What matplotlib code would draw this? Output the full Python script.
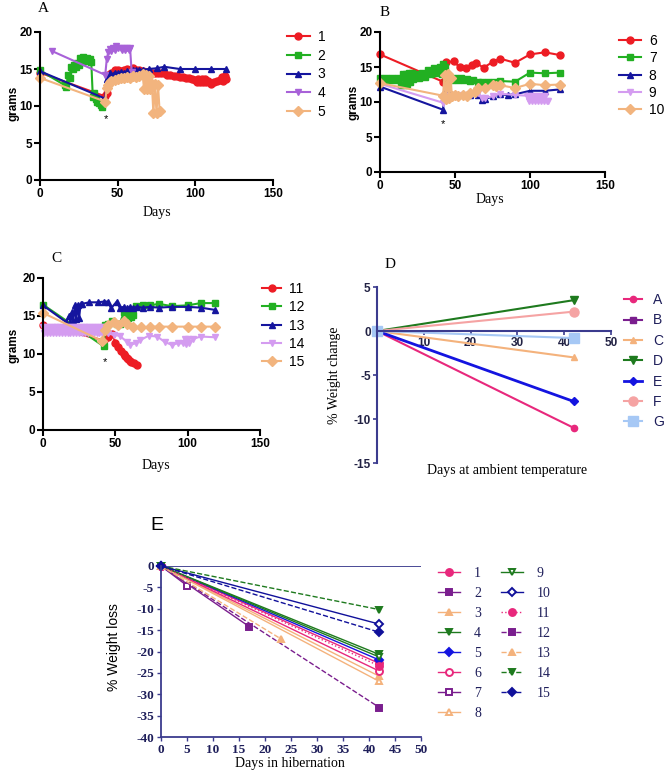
import matplotlib
matplotlib.use('Agg')
import matplotlib.pyplot as plt

plt.rcParams['axes.unicode_minus'] = False

W, H = 668, 783
SANS = ['Liberation Sans', 'DejaVu Sans']
SERIF = ['Liberation Serif', 'DejaVu Serif']

# ---------------- Panel A data (day, grams) ----------------
A1 = [(0,14.5),(42,11.3),(43,11.8),(44,14.2),(46,14.5),(48,14.8),(50,14.9),(52,14.7),(54,14.9),(56,15.0),
      (58,14.8),(60,15.2),(62,14.9),(64,14.8),(66,14.7),(68,14.6),(70,14.6),(72,14.5),(74,14.5),(76,14.4),
      (78,14.5),(80,14.4),(82,14.2),(84,14.2),(86,14.1),(88,14.0),(90,13.9),(92,13.9),(94,13.8),(96,13.8),
      (98,13.6),(100,13.5),(101,13.3),(102,13.6),(103,13.3),(104,13.6),(105,13.3),(106,13.6),(107,13.3),
      (108,13.4),(110,13.0),(112,13.2),(114,13.4),(116,13.5),(117,13.9),(118,13.4),(119,14.0),(120,13.6)]
A2 = [(0,14.8),(16,12.8),(17,12.6),(18,14.2),(19,13.8),(20,15.3),(21,15.0),(22,15.6),(23,15.3),(24,15.8),
      (25,15.5),(26,16.5),(27,16.0),(28,16.6),(29,16.2),(30,16.5),(31,16.1),(32,16.4),(33,16.0),(34,11.2),
      (35,11.8),(36,10.9),(37,10.6),(38,10.4),(39,10.1),(40,9.9)]
A3 = [(0,14.7),(42,11.0),(43,13.6),(44,14.2),(45,14.4),(46,14.2),(48,14.5),(50,14.4),(52,14.6),(54,14.5),
      (56,14.7),(58,14.6),(60,14.8),(62,14.8),(64,14.9),(66,14.9),(70,15.0),(75,15.1),(80,15.3),(90,15.0),
      (100,15.0),(110,15.0),(120,15.0)]
A4 = [(8,17.4),(42,14.2),(43,16.4),(44,17.3),(45,17.7),(46,17.4),(47,17.9),(48,17.6),(49,18.1),(50,17.8),
      (52,17.9),(53,17.6),(54,17.8),(55,17.6),(56,17.9),(57,17.6),(58,17.8),(59,14.6)]
A5 = [(0,13.8),(42,10.6),(43,12.5),(44,12.9),(45,13.2),(46,13.4),(48,13.5),(50,13.7),(52,13.8),(54,13.8),
      (56,13.9),(58,13.8),(60,14.0),(62,13.9),(64,14.1),(66,14.3),(67,12.3),(68,14.2),(69,12.3),(70,14.0),
      (71,12.3),(72,13.0),(73,9.0),(74,13.0),(75,9.0),(76,12.8),(77,9.3)]

# ---------------- Panel B data ----------------
B6 = [(0,16.8),(42,12.9),(44,15.7),(49,15.8),(53,15.0),(57,14.8),(61,15.3),(64,15.6),(69,14.9),(75,15.7),
      (80,16.2),(90,15.6),(100,16.8),(110,17.1),(120,16.7)]
B7 = [(0,13.5),(2,13.2),(4,13.4),(6,13.1),(8,13.4),(10,13.2),(12,13.5),(14,12.5),(15,14.0),(16,12.5),
      (17,14.0),(18,12.6),(19,14.2),(20,12.8),(21,14.2),(22,13.3),(24,14.0),(26,13.4),(28,14.2),(30,13.6),
      (32,14.6),(34,14.0),(36,14.8),(38,14.2),(40,15.0),(41,14.0),(42,15.5),(43,15.0),(44,13.3),(46,13.6),
      (48,13.2),(50,13.5),(52,13.1),(54,13.4),(56,13.2),(58,13.3),(60,13.0),(62,13.1),(65,12.9),(68,12.8),
      (72,12.8),(76,12.8),(80,13.0),(90,12.9),(100,14.2),(110,14.1),(120,14.2)]
B8 = [(0,12.2),(42,8.9),(43,11.5),(44,10.8),(46,11.2),(50,11.0),(55,11.1),(60,11.0),(65,11.0),(68,10.3),
      (70,10.4),(75,10.8),(80,11.1),(85,11.0),(90,11.1),(100,11.6),(110,11.6),(120,11.8)]
B9 = [(0,12.6),(42,9.9),(43,10.5),(45,10.8),(50,11.0),(55,11.0),(60,11.0),(65,11.3),(68,10.6),(70,10.6),
      (75,10.8),(80,11.2),(90,11.0),(98,10.9),(99,10.1),(100,10.9),(101,10.1),(102,10.9),(103,10.1),
      (104,10.9),(105,10.1),(106,10.9),(107,10.1),(108,10.9),(109,10.1),(110,10.8),(111,10.1),(112,10.2)]
B10 = [(0,12.7),(42,10.9),(43,13.8),(44,10.5),(45,14.0),(46,10.6),(47,13.5),(48,10.8),(50,11.0),(52,10.8),
       (55,11.0),(58,10.9),(60,11.3),(63,11.5),(65,12.0),(70,12.0),(75,12.5),(77,12.3),(80,12.4),(90,12.0),
       (100,12.6),(110,12.4),(120,12.5)]

# ---------------- Panel C data ----------------
C11 = [(0,13.8),(42,11.8),(45,12.3),(48,12.6),(50,11.5),(52,10.9),(54,10.4),(56,10.0),(57,9.8),(58,9.5),
       (59,9.3),(60,9.1),(61,9.0),(63,8.8),(65,8.6)]
C12 = [(0,16.5),(42,11.0),(43,13.8),(45,14.0),(48,14.4),(51,13.9),(53,14.0),(56,15.5),(57,14.8),(58,15.6),
       (59,14.8),(60,15.6),(61,14.9),(62,15.1),(64,16.3),(69,16.4),(74,16.4),(80,16.6),(89,16.3),(100,16.4),
       (109,16.7),(119,16.7)]
C13 = [(0,16.4),(16,14.2),(18,15.0),(19,14.0),(20,15.5),(21,14.4),(22,16.4),(23,14.6),(24,16.5),(25,14.8),
       (26,16.6),(27,16.6),(32,16.8),(38,16.8),(42,16.9),(45,16.9),(47,16.0),(51,16.9),(53,16.1),(56,16.2),
       (58,16.0),(60,16.2),(62,16.1),(65,16.2),(69,16.1),(74,16.2),(80,16.1),(89,16.2),(100,16.2),(109,16.1),
       (119,15.8)]
C14 = [(0,13.6),(1,12.7),(2,13.6),(3,12.7),(4,13.6),(5,12.7),(6,13.6),(7,12.7),(8,13.6),(9,12.7),(10,13.6),
       (11,12.7),(12,13.6),(13,12.7),(14,13.6),(15,12.7),(16,13.6),(17,12.7),(18,13.6),(19,12.7),(20,13.6),
       (21,12.7),(22,13.6),(23,12.7),(24,13.6),(25,12.7),(26,13.6),(27,12.7),(28,13.6),(29,12.7),(30,13.6),
       (31,12.7),(32,13.6),(33,12.7),(34,13.6),(35,12.7),(36,13.6),(37,12.7),(38,13.6),(39,12.7),(40,13.6),
       (41,12.7),(42,13.6),(45,12.7),(49,12.5),(53,12.4),(58,11.6),(60,11.2),(64,11.4),(67,11.8),(73,12.4),
       (79,12.3),(84,11.6),(89,11.2),(93,11.4),(97,11.4),(98,12.0),(99,11.3),(100,12.0),(101,11.4),(104,12.0),
       (109,12.3),(119,12.2)]
C15 = [(0,15.4),(41,11.7),(43,13.1),(45,13.8),(49,14.2),(52,13.8),(56,14.4),(58,14.0),(62,13.6),(68,13.5),
       (74,13.6),(80,13.6),(89,13.6),(100,13.6),(109,13.6),(119,13.6)]

# ---------------- Panel D data (% weight change) ----------------
D_days = [0, 42]
D_A = [0, -11.0]
D_B = [0]
D_C = [0, -3.0]
D_D = [0, 3.5]
D_E = [0, -8.0]
D_F = [0, 2.2]
D_G = [0, -0.8]

# ---------------- Panel E data (% weight loss) ----------------
E_days = {1: [0, 42], 2: [0, 17], 3: [0, 42], 4: [0, 42], 5: [0, 42], 6: [0, 42], 7: [0, 5], 8: [0, 42],
          9: [0, 42], 10: [0, 42], 11: [0, 42], 12: [0, 42], 13: [0, 23], 14: [0, 42], 15: [0, 42]}
E_loss = {1: [0, -22.8], 2: [0, -14.2], 3: [0, -25.8], 4: [0, -20.7], 5: [0, -22.0], 6: [0, -24.6],
          7: [0, -4.6], 8: [0, -27.0], 9: [0, -21.3], 10: [0, -13.6], 11: [0, -23.4], 12: [0, -33.1],
          13: [0, -17.0], 14: [0, -10.2], 15: [0, -15.5]}

# ---------------- colours ----------------
RED, GREEN, BLUE, ORANGE = '#ED1C24', '#22B022', '#15159E', '#F2B47E'
PURPLE_A, VIOLET = '#A862D8', '#D49CF0'
NAVY = '#3B3B8E'
TXT_NAVY = '#1E1E5A'
PINK, PURP, SAND, DGREEN, DBLUE, NAVYB = '#E8287C', '#7A1E8E', '#F4B27C', '#1E7A1E', '#1414E0', '#10109A'

fig = plt.figure(figsize=(W / 100, H / 100), dpi=100)


def add_ax(l, t, r, b):
    return fig.add_axes([l / W, 1 - b / H, (r - l) / W, (b - t) / H])


def style_abc(ax):
    ax.set_xlim(0, 150)
    ax.set_ylim(0, 20)
    ax.set_xticks([0, 50, 100, 150])
    ax.set_yticks([0, 5, 10, 15, 20])
    for s in ['top', 'right']:
        ax.spines[s].set_visible(False)
    for s in ['left', 'bottom']:
        ax.spines[s].set_linewidth(1.5)
    ax.tick_params(direction='out', length=4, width=1.5, labelsize=8.5, pad=1.5)
    for lbl in ax.get_xticklabels() + ax.get_yticklabels():
        lbl.set_fontweight('bold')
        lbl.set_fontfamily(SANS)


def plot_series(ax, data, color, marker, label):
    xs = [d for d, v in data]
    ys = [v for d, v in data]
    ax.plot(xs, ys, color=color, marker=marker, ms=5, lw=1.5, label=label, clip_on=False)


def abc_legend(ax, x, y, hl, ls):
    ax.legend(loc='upper left', bbox_to_anchor=(x / W, 1 - y / H), bbox_transform=fig.transFigure,
              frameon=False, prop={'family': SANS, 'size': 10}, handlelength=hl, handletextpad=0.55,
              labelspacing=ls, borderpad=0, borderaxespad=0)


def abc_labels(ax, xl, yl):
    ax.set_xlabel('Days', family=SERIF, fontsize=10)
    ax.set_ylabel('grams', family=SANS, fontsize=8.5, fontweight='bold')
    ax.xaxis.set_label_coords(*xl)
    ax.yaxis.set_label_coords(*yl)


# ---------------- Panel A ----------------
axA = add_ax(40, 32, 273, 180)
for data, c, m, lab in [(A1, RED, 'o', '1'), (A2, GREEN, 's', '2'), (A3, BLUE, '^', '3'),
                        (A4, PURPLE_A, 'v', '4'), (A5, ORANGE, 'D', '5')]:
    plot_series(axA, data, c, m, lab)
style_abc(axA)
abc_labels(axA, (0.5, -0.176), (-0.086, 0.52))
abc_legend(axA, 287, 30, 1.65, 0.34)
axA.text(42.5, 8.3, '*', ha='center', va='center', fontsize=8, family=SANS)
fig.text(43 / W, 1 - 8 / H, 'A', family=SERIF, fontsize=11, ha='center', va='center')

# ---------------- Panel B ----------------
axB = add_ax(380, 32, 605, 172)
for data, c, m, lab in [(B6, RED, 'o', '6'), (B7, GREEN, 's', '7'), (B8, BLUE, '^', '8'),
                        (B9, VIOLET, 'v', '9'), (B10, ORANGE, 'D', '10')]:
    plot_series(axB, data, c, m, lab)
style_abc(axB)
abc_labels(axB, (0.49, -0.15), (-0.089, 0.5))
abc_legend(axB, 619, 34, 1.6, 0.24)
axB.text(42, 6.8, '*', ha='center', va='center', fontsize=8, family=SANS)
fig.text(385 / W, 1 - 12 / H, 'B', family=SERIF, fontsize=11, ha='center', va='center')

# ---------------- Panel C ----------------
axC = add_ax(43, 278, 260, 430)
for data, c, m, lab in [(C11, RED, 'o', '11'), (C12, GREEN, 's', '12'), (C13, BLUE, '^', '13'),
                        (C14, VIOLET, 'v', '14'), (C15, ORANGE, 'D', '15')]:
    plot_series(axC, data, c, m, lab)
style_abc(axC)
abc_labels(axC, (0.52, -0.19), (-0.106, 0.56))
abc_legend(axC, 262, 282, 1.4, 0.31)
axC.text(43, 8.9, '*', ha='center', va='center', fontsize=8, family=SANS)
fig.text(56 / W, 1 - 259 / H, 'C', family=SERIF, fontsize=11, ha='center', va='center')

# ---------------- Panel D ----------------
axD = add_ax(377, 287, 611, 463)
d_specs = [(D_A, PINK, 'o', 4.5, 1.5, 'A'), (D_B, PURP, 's', 5, 1.5, 'B'), (D_C, SAND, '^', 5, 1.5, 'C'),
           (D_D, DGREEN, 'v', 5.5, 1.5, 'D'), (D_E, DBLUE, 'D', 4.5, 2.0, 'E'),
           (D_F, '#F5A3A3', 'o', 6.5, 1.5, 'F'), (D_G, '#A6C8F5', 's', 6.5, 1.5, 'G')]
for vals, c, m, ms, lw, lab in d_specs:
    axD.plot(D_days[:len(vals)], vals, color=c, marker=m, ms=ms, lw=lw, label=lab, clip_on=False)
axD.set_xlim(0, 50)
axD.set_ylim(-15, 5)
axD.set_xticks([10, 20, 30, 40, 50])
axD.set_yticks([5, 0, -5, -10, -15])
for s in ['top', 'right']:
    axD.spines[s].set_visible(False)
axD.spines['bottom'].set_position(('data', 0))
for s in ['left', 'bottom']:
    axD.spines[s].set_linewidth(1.5)
    axD.spines[s].set_color(NAVY)
axD.tick_params(direction='out', length=3, width=1.2, color=NAVY, labelsize=8.5, pad=1.5, labelcolor='#222244')
for lbl in axD.get_xticklabels() + axD.get_yticklabels():
    lbl.set_fontweight('bold')
    lbl.set_fontfamily(SANS)
axD.set_xlabel('Days at ambient temperature', family=SERIF, fontsize=10)
axD.set_ylabel('% Weight change', family=SERIF, fontsize=10)
axD.xaxis.set_label_coords(0.556, -0.005)
axD.yaxis.set_label_coords(-0.154, 0.5)
axD.legend(loc='upper left', bbox_to_anchor=(624 / W, 1 - 293 / H), bbox_transform=fig.transFigure,
           frameon=False, prop={'family': SANS, 'size': 10}, handlelength=1.3, handletextpad=0.8,
           labelspacing=0.46, borderpad=0, borderaxespad=0, labelcolor=TXT_NAVY)
fig.text(390 / W, 1 - 264 / H, 'D', family=SERIF, fontsize=11, ha='center', va='center')

# ---------------- Panel E ----------------
axE = add_ax(161, 566, 421, 737)
e_style = {
    1: (PINK, 'o', '-', True), 2: (PURP, 's', '-', True), 3: (SAND, '^', '-', True),
    4: (DGREEN, 'v', '-', True), 5: (DBLUE, 'D', '-', True), 6: (PINK, 'o', '-', False),
    7: (PURP, 's', '-', False), 8: (SAND, '^', '-', False), 9: (DGREEN, 'v', '-', False),
    10: (NAVYB, 'D', '-', False), 11: (PINK, 'o', ':', True), 12: (PURP, 's', '--', True),
    13: (SAND, '^', '--', True), 14: (DGREEN, 'v', '--', True), 15: (NAVYB, 'D', '--', True),
}
for k in range(1, 16):
    c, m, ls, filled = e_style[k]
    axE.plot(E_days[k], E_loss[k], color=c, marker=m, ls=ls, lw=1.0, ms=5 if m != 'D' else 4.5,
             mfc=c if filled else 'white', mec=c, mew=1.4, label=str(k), clip_on=False)
axE.axhline(0, color=NAVY, lw=1.3, zorder=1)
axE.set_xlim(0, 50)
axE.set_ylim(-40, 0)
axE.set_xticks(range(0, 51, 5))
axE.set_yticks(range(0, -41, -5))
for s in ['top', 'right']:
    axE.spines[s].set_visible(False)
for s in ['left', 'bottom']:
    axE.spines[s].set_linewidth(1.3)
    axE.spines[s].set_color(NAVY)
axE.tick_params(direction='out', length=3, width=1.0, color=NAVY, labelsize=9.5, pad=2, labelcolor=TXT_NAVY)
for lbl in axE.get_xticklabels() + axE.get_yticklabels():
    lbl.set_fontweight('bold')
    lbl.set_fontfamily(SERIF)
axE.set_xlabel('Days in hibernation', family=SERIF, fontsize=10)
axE.set_ylabel('% Weight loss', family=SANS, fontsize=10)
axE.xaxis.set_label_coords(0.496, -0.117)
axE.yaxis.set_label_coords(-0.154, 0.526)
axE.legend(loc='upper left', bbox_to_anchor=(438 / W, 1 - 567 / H), bbox_transform=fig.transFigure, ncol=2,
           frameon=False, prop={'family': SERIF, 'size': 10}, handlelength=1.6, handletextpad=1.0,
           labelspacing=0.5, columnspacing=1.4, borderpad=0, borderaxespad=0, labelcolor=TXT_NAVY)
fig.text(157 / W, 1 - 526 / H, 'E', family=SANS, fontsize=14, ha='center', va='center')

fig.savefig('out.png', dpi=100)
